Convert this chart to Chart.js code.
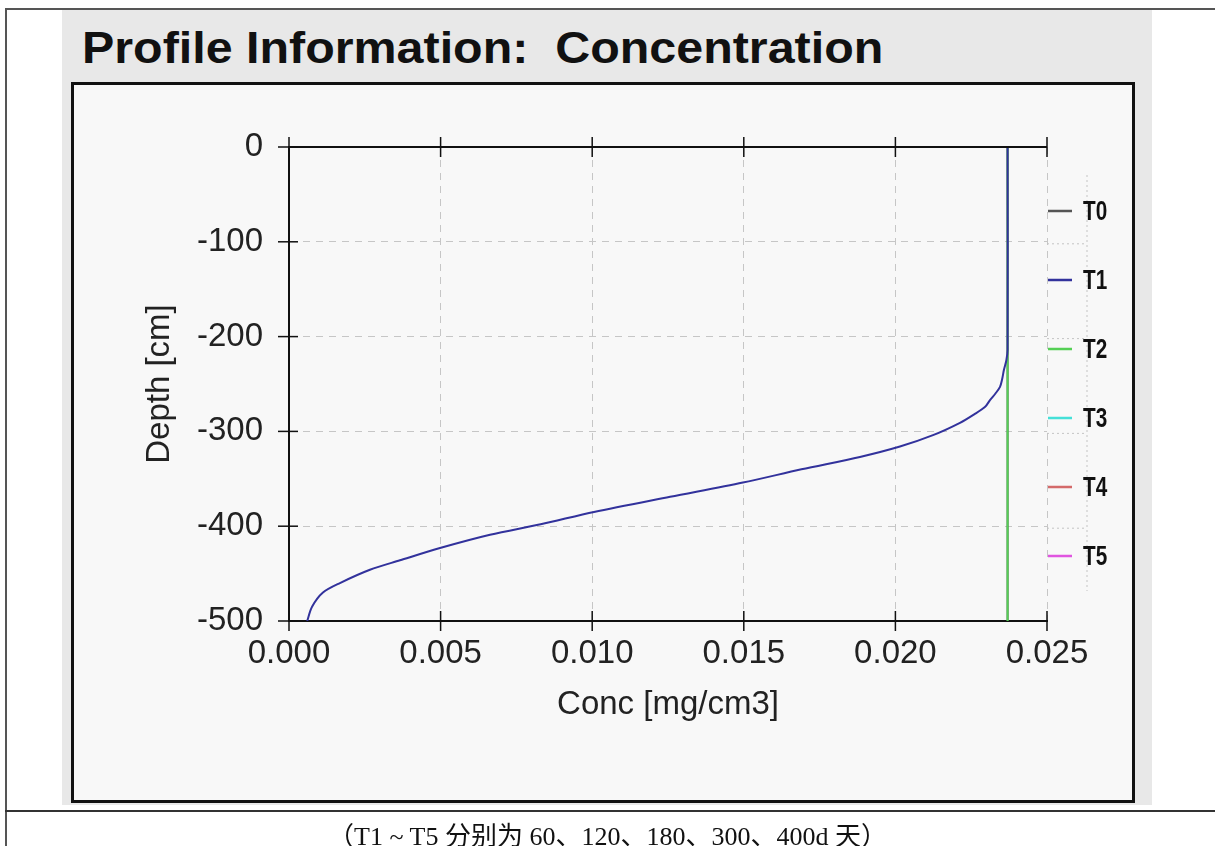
<!DOCTYPE html>
<html>
<head>
<meta charset="utf-8">
<title>Profile Information: Concentration</title>
<script src="https://cdn.jsdelivr.net/npm/chart.js@4.4.1/dist/chart.umd.min.js"></script>
<style>
  html, body { margin: 0; padding: 0; background: #fff; }
  body { width: 1215px; height: 846px; position: relative; overflow: hidden; font-family: "Liberation Sans", Arial, sans-serif; }
  .frame-left { position: absolute; left: 5px; top: 8px; width: 2px; height: 838px; background: #555; }
  .frame-top { position: absolute; left: 5px; top: 8px; width: 1210px; height: 2px; background: #555; }
  .frame-row { position: absolute; left: 5px; top: 810px; width: 1210px; height: 2px; background: #333; }
  .panel { position: absolute; left: 62px; top: 10px; width: 1090px; height: 795px; background: #e8e8e8; }
  .plotbox { position: absolute; left: 71px; top: 82px; width: 1058px; height: 715px; border: 3px solid #111; background: #f8f8f8; }
  .title { position: absolute; left: 82px; top: 23px; font-weight: bold; font-size: 44px; white-space: pre; transform: scaleX(1.1); transform-origin: left top; color: #111; }
  .caption { position: absolute; left: 0; width: 1215px; top: 815px; text-align: center; font-family: "Liberation Serif", "Noto Sans CJK SC", serif; font-size: 26px; color: #111; }
  #wrap { position: absolute; left: 0; top: 0; width: 1215px; height: 846px; }
</style>
</head>
<body>
<div class="frame-top"></div>
<div class="frame-left"></div>
<div class="frame-row"></div>
<div class="panel"></div>
<div class="plotbox"></div>
<div class="title">Profile Information:  Concentration</div>
<div id="wrap"><canvas id="chart"></canvas></div>
<div class="caption">（T1 ~ T5 分别为 60、120、180、300、400d 天）</div>

<script>
// tick values
const concTicks = [0, 0.005, 0.010, 0.015, 0.020, 0.025];
const depthTicks = [0, -100, -200, -300, -400, -500];

// series
const seriesNames = ["T0", "T1", "T2", "T3", "T4", "T5"];

const t0Conc = [0.0237, 0.0237];
const t0Depth = [0, -500];

const t1Conc = [0.0237, 0.0237, 0.02366, 0.02358, 0.02352, 0.02345, 0.0233, 0.02312, 0.02296, 0.0226,
  0.02213, 0.02124, 0.02015, 0.01883, 0.0169, 0.01497, 0.01257, 0.01006, 0.0083, 0.00663,
  0.00498, 0.00366, 0.00267, 0.00168, 0.00112, 0.00076, 0.0006];
const t1Depth = [0, -214, -225, -235, -245, -253, -260, -267, -274, -282,
  -291, -304, -316, -327, -340, -354, -369, -385, -398, -409,
  -423, -436, -446, -460, -470, -485, -500];

const t2Conc = [0.0237, 0.0237];
const t2Depth = [0, -500];

const t3Conc = [];
const t3Depth = [];
const t4Conc = [];
const t4Depth = [];
const t5Conc = [];
const t5Depth = [];

const seriesColors = ["#555555", "#32329c", "#55d055", "#45e0d8", "#d46a6a", "#e055e0"];

const toPoints = (conc, depth) => conc.map((c, i) => ({ x: c, y: depth[i] }));
const allSeries = [
  toPoints(t0Conc, t0Depth),
  toPoints(t1Conc, t1Depth),
  toPoints(t2Conc, t2Depth),
  toPoints(t3Conc, t3Depth),
  toPoints(t4Conc, t4Depth),
  toPoints(t5Conc, t5Depth),
];
const drawOrder = [3, 0, 1, 2, 2, 2];

const datasets = allSeries.map((pts, i) => ({
  label: seriesNames[i],
  data: pts,
  showLine: true,
  borderColor: seriesColors[i],
  backgroundColor: seriesColors[i],
  borderWidth: 2,
  pointRadius: 0,
  tension: i === 1 ? 0.3 : 0,
  order: drawOrder[i],
}));

// axes drawn like the original: solid top line and ticks crossing the axes
const frameAxes = {
  id: "frameAxes",
  afterDatasetsDraw(chart) {
    const { ctx, chartArea, scales } = chart;
    const xs = scales.x, ys = scales.y;
    ctx.save();
    ctx.strokeStyle = "#111";
    ctx.lineWidth = 2;
    ctx.beginPath();
    ctx.moveTo(chartArea.left, chartArea.top);
    ctx.lineTo(chartArea.right, chartArea.top);
    ctx.stroke();
    ctx.lineWidth = 1.5;
    concTicks.forEach(v => {
      const px = xs.getPixelForValue(v);
      ctx.beginPath();
      ctx.moveTo(px, chartArea.top - 10);
      ctx.lineTo(px, chartArea.top + 10);
      ctx.moveTo(px, chartArea.bottom - 10);
      ctx.lineTo(px, chartArea.bottom + 10);
      ctx.stroke();
    });
    depthTicks.forEach(v => {
      const py = ys.getPixelForValue(v);
      ctx.beginPath();
      ctx.moveTo(chartArea.left - 11, py);
      ctx.lineTo(chartArea.left + 9, py);
      ctx.stroke();
    });
    // faint dotted extension toward the legend
    ctx.strokeStyle = "#c4c4c4";
    ctx.lineWidth = 1;
    ctx.setLineDash([2, 3]);
    depthTicks.slice(1, 5).forEach(v => {
      const py = ys.getPixelForValue(v);
      ctx.beginPath();
      ctx.moveTo(chartArea.right, py + 2);
      ctx.lineTo(chartArea.right + 40, py + 2);
      ctx.stroke();
    });
    ctx.beginPath();
    ctx.moveTo(chartArea.right + 40, chartArea.top + 28);
    ctx.lineTo(chartArea.right + 40, chartArea.bottom - 30);
    ctx.stroke();
    ctx.restore();
  },
  afterDraw(chart) {
    const { ctx, chartArea } = chart;
    ctx.save();
    ctx.font = "bold 28px 'Liberation Sans', sans-serif";
    ctx.textBaseline = "middle";
    chart.data.datasets.forEach((ds, i) => {
      const y = chartArea.top + 64 + i * 69;
      ctx.strokeStyle = ds.borderColor;
      ctx.lineWidth = 2.5;
      ctx.beginPath();
      ctx.moveTo(chartArea.right + 1, y);
      ctx.lineTo(chartArea.right + 25, y);
      ctx.stroke();
      // condensed label, like the original narrow bold font
      ctx.save();
      ctx.translate(chartArea.right + 36, y + 1);
      ctx.scale(0.74, 1);
      ctx.fillStyle = "#111";
      ctx.fillText(ds.label, 0, 0);
      ctx.restore();
    });
    ctx.restore();
  }
};

Chart.defaults.font.family = "'Liberation Sans', Arial, sans-serif";
Chart.defaults.color = "#222";

new Chart(document.getElementById("chart"), {
  type: "scatter",
  data: { datasets },
  options: {
    responsive: true,
    maintainAspectRatio: false,
    animation: false,
    layout: { padding: { left: 130, right: 168, top: 147, bottom: 105 } },
    plugins: {
      legend: { display: false },
      tooltip: { enabled: false },
    },
    scales: {
      x: {
        type: "linear",
        min: 0,
        max: 0.025,
        afterBuildTicks: (scale) => { scale.ticks = concTicks.map(v => ({ value: v })); },
        afterFit: (scale) => { scale.height = 120; },
        ticks: {
          font: { size: 33 },
          color: "#222",
          padding: 13,
          maxRotation: 0,
          autoSkip: false,
          callback: (v) => Number(v).toFixed(3),
        },
        grid: { color: "#c6c6c6", lineWidth: 1, drawTicks: false },
        border: { display: true, color: "#111", width: 2, dash: [7, 6] },
        title: { display: true, text: "Conc [mg/cm3]", font: { size: 33 }, color: "#222", padding: { top: 0, bottom: 16 } },
      },
      y: {
        type: "linear",
        min: -500,
        max: 0,
        afterBuildTicks: (scale) => { scale.ticks = depthTicks.map(v => ({ value: v })); },
        afterFit: (scale) => { scale.width = 159; },
        ticks: {
          font: { size: 33 },
          color: "#222",
          padding: 26,
          autoSkip: false,
        },
        grid: { color: "#c6c6c6", lineWidth: 1, drawTicks: false },
        border: { display: true, color: "#111", width: 2, dash: [7, 6] },
        title: { display: true, text: "Depth [cm]", font: { size: 33 }, color: "#222", padding: { top: 10, bottom: 0 } },
      },
    },
  },
  plugins: [frameAxes],
});
</script>
</body>
</html>
